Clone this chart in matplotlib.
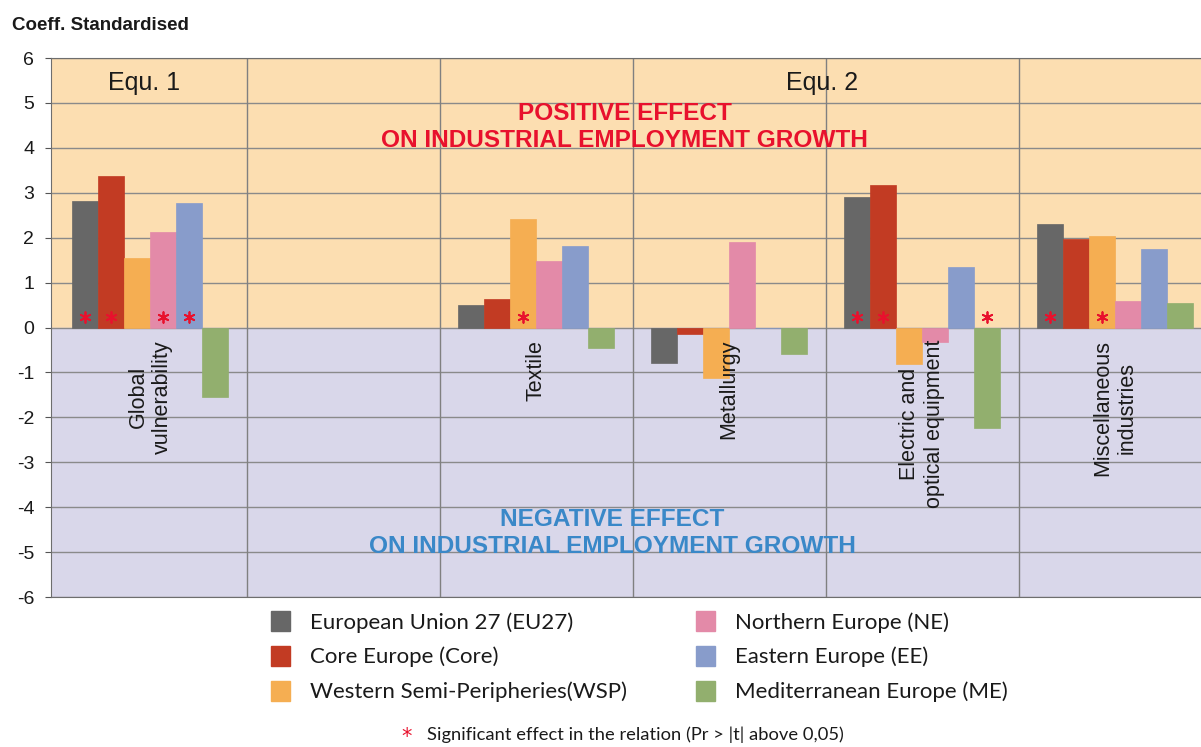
import matplotlib.pyplot as plt
import matplotlib.patches as mpatches
import numpy as np

categories = ["Global\nvulnerability", "", "Textile", "Metallurgy",
              "Electric and\noptical equipment", "Miscellaneous\nindustries"]

series = ["European Union 27 (EU27)", "Core Europe (Core)",
          "Western Semi-Peripheries(WSP)", "Northern Europe (NE)",
          "Eastern Europe (EE)", "Mediterranean Europe (ME)"]

eu27 = [2.82, np.nan, 0.50, -0.78, 2.91, 2.31]
core = [3.37, np.nan, 0.63, -0.15, 3.18, 1.96]
wsp = [1.55, np.nan, 2.42, -1.13, -0.82, 2.04]
ne = [2.13, np.nan, 1.47, 1.91, -0.33, 0.60]
ee = [2.77, np.nan, 1.82, 0.0, 1.35, 1.74]
me = [-1.55, np.nan, -0.46, -0.60, -2.23, 0.54]

# significant coefficients (red asterisk)
sig_eu27 = [1, 0, 0, 0, 1, 1]
sig_core = [1, 0, 0, 0, 1, 0]
sig_wsp = [0, 0, 1, 0, 0, 1]
sig_ne = [1, 0, 0, 0, 0, 0]
sig_ee = [1, 0, 0, 0, 0, 0]
sig_me = [0, 0, 0, 0, 1, 0]

colors = ["#676767", "#C23B23", "#F5AE52", "#E38AA8", "#889CCB", "#92AF6E"]
values = [eu27, core, wsp, ne, ee, me]
signif = [sig_eu27, sig_core, sig_wsp, sig_ne, sig_ee, sig_me]

plt.rcParams["font.family"] = ["Liberation Sans", "DejaVu Sans"]
plt.rcParams["axes.unicode_minus"] = False

fig = plt.figure(figsize=(12.01, 7.47), dpi=100)
ax = fig.add_axes([51 / 1201, 150 / 747, 1160.5 / 1201, 539 / 747])

ax.axhspan(0, 6, color="#FCDEB1", zorder=0)
ax.axhspan(-6, 0, color="#D9D7EA", zorder=0)

x = np.arange(len(categories))
width = 0.134
for i, (vals, col, sig) in enumerate(zip(values, colors, signif)):
    xs = x + (i - 2.5) * width
    ax.bar(xs, vals, width, color=col, edgecolor=col, linewidth=0.5,
           zorder=3, label=series[i])
    sx = [xx for xx, s in zip(xs, sig) if s]
    ax.scatter(sx, [0.23] * len(sx), marker=(6, 2, 0), s=60,
               color="#E8112D", linewidths=1.3, zorder=4)

for yy in range(-6, 7):
    ax.axhline(yy, color="#8A8A8A", linewidth=1, zorder=1)
for b in np.arange(0.5, 5.5, 1.0):
    ax.axvline(b, color="#808080", linewidth=1, zorder=1)

for xi, lab in zip(x, categories):
    ax.text(xi, -0.28, lab, rotation=90, ha="center", va="top",
            multialignment="center", fontsize=15.5, color="#1A1A1A", zorder=5)

ax.text(-0.03, 5.45, "Equ. 1", ha="center", va="center", fontsize=18,
        color="#1A1A1A")
ax.text(3.48, 5.45, "Equ. 2", ha="center", va="center", fontsize=18,
        color="#1A1A1A")
ax.text(2.46, 4.47, "POSITIVE EFFECT\nON INDUSTRIAL EMPLOYMENT GROWTH",
        ha="center", va="center", fontsize=17.6, fontweight="bold",
        color="#E8112D", linespacing=1.22, zorder=5)
ax.text(2.395, -4.58, "NEGATIVE EFFECT\nON INDUSTRIAL EMPLOYMENT GROWTH",
        ha="center", va="center", fontsize=17.6, fontweight="bold",
        color="#3A88C8", linespacing=1.22, zorder=5)

ax.set_xlim(-0.513, 5.5)
ax.set_ylim(-6, 6)
ax.set_yticks(range(-6, 7))
ax.set_xticks([])
ax.tick_params(axis="y", labelsize=14, length=4, color="#555555",
               labelcolor="#1A1A1A", pad=8)
for s in ["left", "bottom", "top"]:
    ax.spines[s].set_color("#6E6E6E")
ax.spines["right"].set_visible(False)

fig.text(12 / 1201, 1 - 25 / 747, "Coeff. Standardised", fontsize=13.5,
         fontweight="bold", va="center", color="#1A1A1A")

handles = [mpatches.Patch(color=c, label=l) for c, l in zip(colors, series)]
fig.legend(handles=handles, ncol=2, loc="upper left",
           bbox_to_anchor=(251 / 1201, 1 - 591 / 747), frameon=False,
           prop={"family": "Lato", "size": 16}, handlelength=0.85,
           handleheight=1.0, handletextpad=0.9, columnspacing=3.1,
           labelspacing=0.6, labelcolor="#1A1A1A")

fig.text(407 / 1201, 1 - 737 / 747, "*", fontsize=15, color="#E8112D",
         ha="center", va="center", family="DejaVu Sans")
fig.text(427 / 1201, 1 - 735 / 747,
         "Significant effect in the relation (Pr > |t| above 0,05)",
         fontsize=13.2, family="Lato", va="center", color="#1A1A1A")

fig.savefig("out.png", dpi=100)
